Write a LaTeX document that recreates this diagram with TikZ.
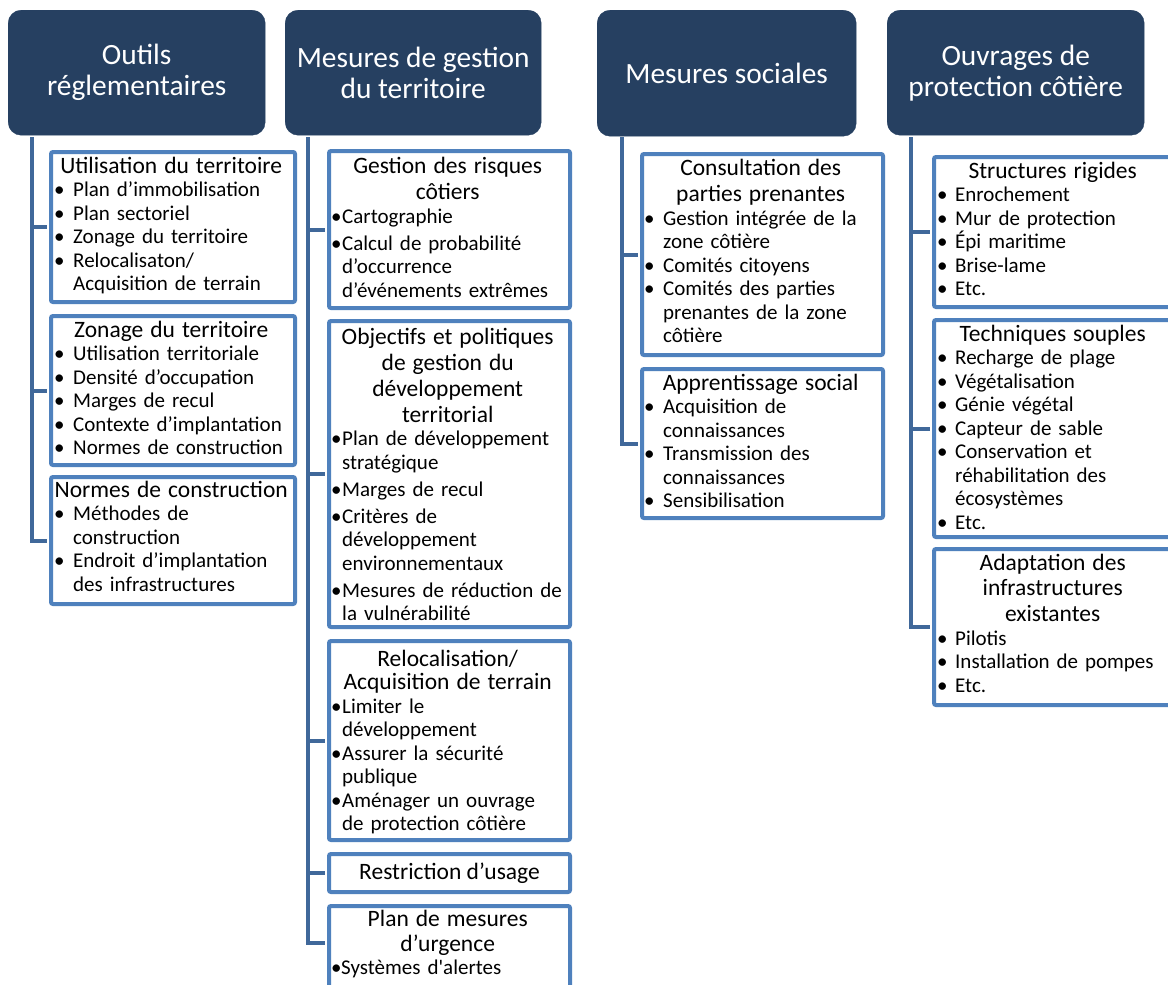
\documentclass[tikz,border=0pt]{standalone}
\usepackage{fontspec}
\setmainfont{Carlito}
\newfontfamily\rawfont{Carlito}[Ligatures=TeXOff]
\usetikzlibrary{calc}
\definecolor{navy}{RGB}{38,64,97}
\definecolor{frameblue}{RGB}{79,129,189}
\definecolor{linkblue}{RGB}{64,104,154}
\newlength{\bhang}
\newcommand{\bl}[1]{\par\noindent\hangindent=\bhang\hangafter=1\makebox[\bhang][l]{•}#1}
\newcommand{\blx}[1]{\par\vspace{3.5pt}\bl{#1}}
\newcommand{\ttl}[2][26]{{\fontsize{23.5}{#1}\selectfont\centering\leftskip=-8pt plus 1fil\rightskip=-8pt plus 1fil\rule{0pt}{18pt}#2\par}}
\tikzset{
  hdr/.style={draw=navy, fill=navy, rounded corners=13, text=white, align=center,
    font=\fontsize{29.4}{31}\selectfont, inner sep=0pt, anchor=north west},
  cframe/.style={draw=frameblue, line width=4, rounded corners=2, fill=white,
    inner sep=0pt, anchor=north west},
  ctext/.style={inner sep=0pt, anchor=north west, font=\fontsize{21}{23.5}\selectfont,
    execute at begin node={\raggedright\rightskip=-6pt plus 1fil\parskip=0pt\setlength{\bhang}{#1pt}}},
  conn/.style={draw=linkblue, line width=4, shorten >=2pt},
}
\newcommand{\cbox}[5]{\node[cframe, minimum width={#4-#2-4}, minimum height={#5-#3-4}] (#1) at ({#2+2},{#3+2}) {};}
\begin{document}
\begin{tikzpicture}[x=1pt,y=-1pt]
\useasboundingbox[fill=white] (0,0) rectangle (1168,985);
\clip (0,0) rectangle (1168,985);
% headers
\node[hdr, minimum width=257, minimum height=125] (h1) at (8,10) {Outils\\réglementaires};
\node[hdr, minimum width=256, minimum height=125] (h2) at (285,10) {Mesures de gestion\\du territoire};
\node[hdr, minimum width=259, minimum height=126] (h3) at (597,10) {Mesures sociales};
\node[hdr, minimum width=257, minimum height=125] (h4) at (887,10) {Ouvrages de\\protection côtière};
% frames
\cbox{b11}{47}{148}{295}{302}
\cbox{b12}{47}{312}{295}{465}
\cbox{b13}{47}{473}{295}{604}
\cbox{b21}{325}{147}{570}{308}
\cbox{b22}{325}{317}{570}{627}
\cbox{b23}{325}{637}{570}{840}
\cbox{b24}{325}{850}{570}{892}
\cbox{b25}{325}{902}{570}{1000}
\cbox{b31}{638}{150}{883}{355}
\cbox{b32}{638}{365}{883}{518}
\cbox{b41}{930}{153}{1175}{307}
\cbox{b42}{930}{316}{1175}{537}
\cbox{b43}{930}{545}{1175}{705}
% connectors
\coordinate (v1) at (32,137);
\coordinate (v2) at (308,137);
\coordinate (v3) at (622,137);
\coordinate (v4) at (911,137);
\foreach \b in {b11,b12,b13} \draw[conn] (v1) |- (\b.west);
\foreach \b in {b21,b22,b23,b24} \draw[conn] (v2) |- (\b.west);
\draw[conn] (v2) |- (b25.west |- 0,943);
\foreach \b in {b31,b32} \draw[conn] (v3) |- (\b.west);
\foreach \b in {b41,b42,b43} \draw[conn] (v4) |- (\b.west);
% texts column 1
\node[ctext=19, text width=234] (t11) at (54,155) {\ttl{Utilisation du territoire}
 \bl{Plan d’immobilisation}\bl{Plan sectoriel}\bl{Zonage du territoire}\bl{Relocalisaton/\newline Acquisition de terrain}\par};
\node[ctext=19, text width=234] (t12) at (54,319) {\ttl{Zonage du territoire}
 \bl{Utilisation territoriale}\bl{Densité d’occupation}\bl{Marges de recul}\bl{Contexte d’implantation}\bl{Normes de construction}\par};
\node[ctext=19, text width=234] (t13) at (54,479) {\ttl{Normes de construction}
 \bl{Méthodes de\newline construction}\bl{Endroit d’implantation\newline des infrastructures}\par};
% column 2
\node[ctext=11, text width=233] (t21) at (331,155) {\ttl[26.7]{Gestion des risques\\côtiers}
 \bl{Cartographie}\blx{Calcul de probabilité\newline d’occurrence\newline d’événements extrêmes}\par};
\node[ctext=11, text width=233] (t22) at (331,326) {\ttl{Objectifs et politiques\\de gestion du\\développement\\territorial}
 \bl{Plan de développement\newline stratégique}\blx{Marges de recul}\blx{Critères de\newline développement\newline environnementaux}\blx{Mesures de réduction de\newline la vulnérabilité}\par};
\node[ctext=11, text width=233] (t23) at (331,648) {\ttl[23.5]{Relocalisation/\\Acquisition de terrain}
 \bl{Limiter le\newline développement}\bl{Assurer la sécurité\newline publique}\bl{Aménager un ouvrage\newline de protection côtière}\par};
\node[inner sep=0pt, font=\fontsize{23.5}{26}\selectfont] (t24) at (b24.center) {Restriction d’usage};
\node[ctext=10, text width=233] (t25) at (331,908) {\ttl[25]{Plan de mesures\\d’urgence}
 \bl{Systèmes d{\rawfont '}alertes}\par};
% column 3
\node[ctext=19, text width=233] (t31) at (644,157) {\ttl[26.7]{Consultation des\\parties prenantes}
 \bl{Gestion intégrée de la\newline zone côtière}\bl{Comités citoyens}\bl{Comités des parties\newline prenantes de la zone\newline côtière}\par};
\node[ctext=19, text width=233] (t32) at (644,372) {\ttl{Apprentissage social}
 \bl{Acquisition de\newline connaissances}\bl{Transmission des\newline connaissances}\bl{Sensibilisation}\par};
% column 4
\node[ctext=18, text width=231] (t41) at (937,160) {\ttl{Structures rigides}
 \bl{Enrochement}\bl{Mur de protection}\bl{Épi maritime}\bl{Brise-lame}\bl{Etc.}\par};
\node[ctext=18, text width=231] (t42) at (937,323) {\ttl{Techniques souples}
 \bl{Recharge de plage}\bl{Végétalisation}\bl{Génie végétal}\bl{Capteur de sable}\bl{Conservation et\newline réhabilitation des\newline écosystèmes}\bl{Etc.}\par};
\node[ctext=18, text width=231] (t43) at (937,552) {\ttl[25.7]{Adaptation des\\infrastructures\\existantes}
 \bl{Pilotis}\bl{Installation de pompes}\bl{Etc.}\par};
\end{tikzpicture}
\end{document}
